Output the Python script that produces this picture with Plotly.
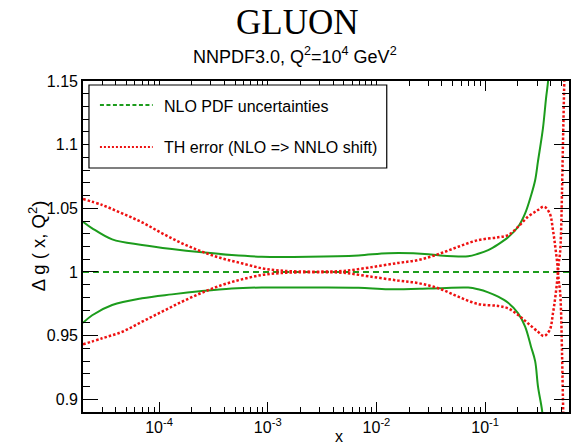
import math
import plotly.graph_objects as go

# ---- data: ratio to the central NLO gluon at Q^2 = 10^4 GeV^2 ----
x_min, x_max = 2.0e-5, 0.59

x_central = [x_min, x_max]
central = [1.0, 1.0]

x_pdf_up = [2.0e-5, 2.43e-5, 3.71e-5, 6.98e-5, 1.315e-4, 2.48e-4, 4.67e-4, 8.81e-4,
            2.38e-3, 6.84e-3, 1.29e-2, 3.0e-2, 3.71e-2, 6.98e-2, 8.62e-2, 0.1066,
            0.1316, 0.1625, 0.201, 0.233, 0.264, 0.288, 0.306, 0.340, 0.363, 0.379, 0.394]
pdf_up = [1.0395, 1.0343, 1.0256, 1.0212, 1.018, 1.0154, 1.0133, 1.012,
          1.012, 1.013, 1.0147, 1.014, 1.0131, 1.0123, 1.0143, 1.0172,
          1.0217, 1.0272, 1.0355, 1.046, 1.060, 1.072, 1.087, 1.113, 1.1366, 1.15, 1.17]

x_pdf_dn = [2.0e-5, 2.43e-5, 3.71e-5, 6.98e-5, 1.315e-4, 2.48e-4, 4.67e-4, 8.81e-4,
            2.38e-3, 6.84e-3, 1.29e-2, 3.0e-2, 3.71e-2, 6.98e-2, 8.62e-2, 0.1066,
            0.1316, 0.1625, 0.201, 0.233, 0.264, 0.288, 0.306, 0.333, 0.3475]
pdf_dn = [0.960, 0.966, 0.974, 0.9793, 0.9824, 0.985, 0.987, 0.9878,
          0.9878, 0.9876, 0.9864, 0.987, 0.9872, 0.9877, 0.9864, 0.984,
          0.9806, 0.9758, 0.9675, 0.957, 0.9413, 0.930, 0.910, 0.8916, 0.875]

x_th = [2.0e-5, 3.0e-5, 4.58e-5, 6.98e-5, 1.066e-4, 1.626e-4, 2.48e-4, 3.78e-4,
        5.77e-4, 8.81e-4, 1.26e-3, 1.92e-3, 3.26e-3, 4.98e-3, 8.45e-3, 1.59e-2,
        2.43e-2, 3.71e-2, 5.65e-2, 8.62e-2, 0.1316, 0.1625, 0.201, 0.248, 0.306,
        0.3475, 0.392, 0.420, 0.441, 0.460, 0.474, 0.488, 0.498, 0.508, 0.519, 0.531, 0.548]
th_up = [1.0573, 1.0526, 1.046, 1.039, 1.0304, 1.0225, 1.016, 1.0107,
         1.0068, 1.0029, 1.0012, 1.0004, 1.0003, 1.0008, 1.0034, 1.0071,
         1.0094, 1.014, 1.0198, 1.025, 1.0272, 1.029, 1.0355, 1.0434, 1.0487,
         1.0513, 1.046, 1.033, 1.0198, 1.0068, 0.9937, 0.985, 0.97, 0.94, 0.90, 0.86, 0.80]
th_dn = [0.9431, 0.9479, 0.953, 0.9609, 0.9688, 0.9766, 0.9837, 0.9897,
         0.9942, 0.9976, 0.9990, 0.9997, 0.9998, 0.9993, 0.9966, 0.9932,
         0.9912, 0.9872, 0.9806, 0.9748, 0.9733, 0.9714, 0.9662, 0.9596, 0.953,
         0.9497, 0.9544, 0.9675, 0.980, 0.9937, 1.0063, 1.015, 1.03, 1.06, 1.10, 1.14, 1.20]

x_major = [1e-4, 1e-3, 1e-2, 1e-1]
x_major_text = ["10<sup>-4</sup>", "10<sup>-3</sup>", "10<sup>-2</sup>", "10<sup>-1</sup>"]
y_major = [0.9, 0.95, 1.0, 1.05, 1.1, 1.15]
y_major_text = ["0.9", "0.95", "1", "1.05", "1.1", "1.15"]

legend_labels = ["NLO PDF uncertainties", "TH error (NLO => NNLO shift)"]

# ---- styles ----
GREEN = "#1c9c1c"
RED = "#ee1111"
FONT = "Liberation Sans, Arial, sans-serif"

x_minor = [m * 10.0 ** e for e in range(-5, 0) for m in range(2, 10)
           if x_min < m * 10.0 ** e < x_max]
y_minor = [round(0.89 + 0.01 * i, 2) for i in range(1, 26)
           if round(0.89 + 0.01 * i, 2) not in y_major]

fig = go.Figure()

green_line = dict(color=GREEN, width=2)
red_line = dict(color=RED, width=2.5, dash="2.5px,2px")

fig.add_trace(go.Scatter(x=x_central, y=central, mode="lines",
                         line=dict(color=GREEN, width=2, dash="6px,4px")))
fig.add_trace(go.Scatter(x=x_pdf_up, y=pdf_up, mode="lines", line=green_line,
                         line_shape="spline"))
fig.add_trace(go.Scatter(x=x_pdf_dn, y=pdf_dn, mode="lines", line=green_line,
                         line_shape="spline"))
fig.add_trace(go.Scatter(x=x_th, y=th_up, mode="lines", line=red_line,
                         line_shape="spline"))
fig.add_trace(go.Scatter(x=x_th, y=th_dn, mode="lines", line=red_line,
                         line_shape="spline"))

# plot-area geometry in pixels, used to place text and the legend box
L, R, T, B = 83, 571, 81, 412


def px(xp):
    return (xp - L) / (R - L)


def py(yp):
    return (B - yp) / (B - T)


shapes = [
    dict(type="rect", xref="paper", yref="paper", x0=px(89), x1=px(388),
         y0=py(168), y1=py(85), line=dict(color="black", width=1.2),
         fillcolor="white", layer="above"),
    dict(type="line", xref="paper", yref="paper", x0=px(100), x1=px(153),
         y0=py(105), y1=py(105), line=dict(color=GREEN, width=2, dash="4px,2.5px"),
         layer="above"),
    dict(type="line", xref="paper", yref="paper", x0=px(100), x1=px(153),
         y0=py(147), y1=py(147), line=dict(color=RED, width=2.2, dash="2px,2px"),
         layer="above"),
]

annotations = [
    dict(text="GLUON", xref="paper", yref="paper", x=px(298), y=py(23),
         xanchor="center", yanchor="middle", showarrow=False,
         font=dict(family="Liberation Serif, Times New Roman, serif", size=35,
                   color="black")),
    dict(text="NNPDF3.0, Q<sup>2</sup>=10<sup>4</sup> GeV<sup>2</sup>", xref="paper",
         yref="paper", x=px(296), y=py(55), xanchor="center", yanchor="middle",
         showarrow=False, font=dict(family=FONT, size=18, color="black")),
    dict(text=legend_labels[0], xref="paper", yref="paper", x=px(162), y=py(106),
         xanchor="left", yanchor="middle", showarrow=False,
         font=dict(family=FONT, size=16, color="black")),
    dict(text=legend_labels[1], xref="paper", yref="paper", x=px(162), y=py(147),
         xanchor="left", yanchor="middle", showarrow=False,
         font=dict(family=FONT, size=16, color="black")),
    dict(text="x", xref="paper", yref="paper", x=px(340), y=py(436),
         xanchor="center", yanchor="middle", showarrow=False,
         font=dict(family=FONT, size=16, color="black")),
    dict(text="Δ g ( x, Q<sup>2</sup>)", xref="paper", yref="paper", x=px(37),
         y=py(246), xanchor="center", yanchor="middle", textangle=-90,
         showarrow=False, font=dict(family=FONT, size=18.5, color="black")),
]

axis_common = dict(showgrid=False, zeroline=False, showline=True, linecolor="black",
                   linewidth=1.6, ticks="inside", tickcolor="black", tickwidth=1,
                   mirror="allticks", tickfont=dict(family=FONT, size=16, color="black"))

fig.update_layout(
    width=574, height=446,
    margin=dict(l=L, r=574 - R, t=T, b=446 - B),
    paper_bgcolor="white", plot_bgcolor="white",
    font=dict(family=FONT, color="black"),
    showlegend=False,
    shapes=shapes, annotations=annotations,
    xaxis=dict(type="log", range=[math.log10(x_min), math.log10(x_max)],
               tickmode="array", tickvals=x_major, ticktext=x_major_text, ticklen=10,
               minor=dict(tickmode="array", tickvals=x_minor, ticks="inside",
                          ticklen=5, tickwidth=1, tickcolor="black", showgrid=False),
               **axis_common),
    yaxis=dict(range=[0.89, 1.15], tickmode="array", tickvals=y_major,
               ticktext=y_major_text, ticklen=15,
               minor=dict(tickmode="array", tickvals=y_minor, ticks="inside",
                          ticklen=7, tickwidth=1, tickcolor="black", showgrid=False),
               **axis_common),
)

fig.write_html("out.html")
